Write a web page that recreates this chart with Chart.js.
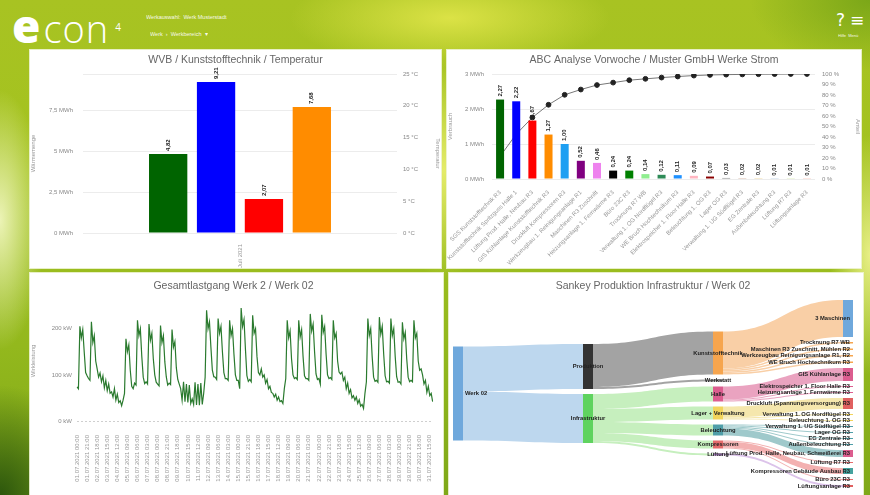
<!DOCTYPE html>
<html lang="de">
<head>
<meta charset="utf-8">
<title>econ4 Dashboard</title>
<script src="https://cdn.jsdelivr.net/npm/chart.js@4.4.1/dist/chart.umd.min.js"></script>
<style>
  html, body { margin: 0; padding: 0; }
  body {
    width: 870px; height: 495px; overflow: hidden; position: relative;
    font-family: "Liberation Sans", Arial, sans-serif;
    background:
      radial-gradient(50px 110px at 444px 170px, rgba(232,238,110,0.95), rgba(232,238,110,0)),
      radial-gradient(160px 50px at 450px 18px, rgba(222,228,72,0.95), rgba(222,228,72,0)),
      radial-gradient(45px 130px at 0px 220px, rgba(240,246,190,0.95), rgba(240,246,190,0)),
      radial-gradient(40px 120px at 870px 255px, rgba(236,242,140,0.95), rgba(236,242,140,0)),
      radial-gradient(90px 110px at 0px 495px, rgba(40,82,12,0.95), rgba(40,82,12,0)),
      radial-gradient(120px 70px at 870px 0px, rgba(112,160,22,0.8), rgba(112,160,22,0)),
      linear-gradient(180deg, #a8c322 0%, #a3c21f 35%, #93b81d 70%, #7fa818 100%);
  }
  #logo { position: absolute; left: 12px; top: -6px; color: #fff; white-space: nowrap; }
  #logo .e { font-family: "Open Sans", sans-serif; font-weight: 800; font-size: 46px; }
  #logo .con { font-family: "Open Sans", sans-serif; font-weight: 300; font-size: 38px; margin-left: 3px; letter-spacing: 1px; }
  #logo sup { font-family: "Open Sans", sans-serif; font-size: 10px; position: relative; top: -6px; margin-left: 6px; }
  .hdr { position: absolute; color: #fff; font-size: 5.5px; white-space: nowrap; opacity: 0.9; }
  .icons { position: absolute; top: 10px; left: 836px; color: #fff; font-size: 17px; font-family: "DejaVu Sans", sans-serif; }
  .icons span { margin-right: 5px; }
  .panel { position: absolute; background: #fff; box-shadow: 0 0 0 1px rgba(240,244,215,0.9); }
  .panel canvas { position: absolute; left: 0; top: 0; }
</style>
</head>
<body>
<div id="logo"><span class="e">e</span><span class="con">con</span><sup>4</sup></div>
<div class="hdr" style="left:146px; top:14px;">Werkauswahl:&nbsp;&nbsp;Werk Musterstadt</div>
<div class="hdr" style="left:150px; top:31px;">Werk&nbsp;&nbsp;›&nbsp;&nbsp;Werkbereich&nbsp;&nbsp;▾</div>
<div class="icons"><span>?</span><span>≡</span></div>
<div class="hdr" style="left:838px; top:33px; font-size:4px;">Hilfe&nbsp;&nbsp;Menü</div>

<div class="panel" style="left:30px; top:50px; width:411px; height:218px;"><canvas id="c1" width="411" height="218"></canvas></div>
<div class="panel" style="left:447px; top:50px; width:414px; height:218px;"><canvas id="c2" width="414" height="218"></canvas></div>
<div class="panel" style="left:30px; top:273px; width:413px; height:222px;"><canvas id="c3" width="413" height="222"></canvas></div>
<div class="panel" style="left:449px; top:273px; width:414px; height:222px;"><canvas id="c4" width="414" height="222"></canvas></div>

<script>
// ---------- Wärmemenge je Halle (MWh) ----------
const hallPeriod = ['Juli 2021'];
const hallNames = ['Halle 1', 'Halle 2', 'Halle 3', 'Halle 4'];
const hallHeat = [4.82, 9.21, 2.07, 7.68];
const hallColors = ['#006400', '#0000ff', '#ff0000', '#ff8c00'];

// ---------- ABC-Analyse Strom (MWh, Anteil kumuliert in %) ----------
const abcConsumers = [
  'SGS Kunststofftechnik R3', 'Kunststofftechnik Spritzguss Halle 1', 'Lüftung Prod. Halle, Neubau R3',
  'GIS Kühlanlage Kunststofftechnik R3', 'Druckluft Kompressoren R3', 'Werkzeugbau 1. Reinigungsanlage R1',
  'Maschinen R3 Zuschnitt', 'Heizungsanlage 1. Fernwärme R3', 'Büro 23C R3', 'Trocknung R7 WB',
  'Verwaltung 1. OG Nordflügel R3', 'WE Bruch Hochtechnikum R3', 'Elektrospeicher 1. Floor Halle R3',
  'Beleuchtung 1. OG R3', 'Lager OG R3', 'Verwaltung 1. UG Südflügel R3', 'EG Zentrale R3',
  'Außenbeleuchtung R3', 'Lüftung R7 R3', 'Lüftungsanlage R3'
];
const abcEnergy = [2.27, 2.22, 1.67, 1.27, 1.00, 0.52, 0.46, 0.24, 0.24, 0.14,
                   0.12, 0.11, 0.09, 0.07, 0.03, 0.02, 0.02, 0.01, 0.01, 0.01];
const abcShare = [21.6, 42.7, 58.6, 70.7, 80.2, 85.2, 89.5, 91.8, 94.1, 95.4,
                  96.6, 97.6, 98.5, 99.1, 99.4, 99.6, 99.8, 99.9, 100, 100];
const abcColors = ['#006400', '#0000ff', '#ff0000', '#ff8c00', '#1e9ff2', '#800080', '#ee82ee', '#000000',
                   '#008000', '#90ee90', '#2e8b57', '#1e90ff', '#ffb6c1', '#8b0000', '#808080', '#a0522d',
                   '#daa520', '#4682b4', '#9acd32', '#ff6347'];

// ---------- Gesamtlastgang Juli 2021, 3-Stunden-Werte (kW) ----------
const loadHours = ['00:00', '03:00', '06:00', '09:00', '12:00', '15:00', '18:00', '21:00'];
const loadPower = [
  74, 70, 205, 180, 198, 150, 105, 98,     // Do 01.07.
  92, 88, 215, 170, 185, 130, 113, 95,     // Fr
  104, 85, 98, 72, 88, 66, 80, 60,         // Sa
  63, 52, 70, 45, 58, 40, 44, 33,          // So
  45, 60, 178, 150, 165, 110, 75, 70,      // Mo 05.07.
  82, 78, 218, 185, 200, 140, 95, 81,
  85, 80, 210, 175, 190, 135, 100, 84,
  80, 76, 207, 170, 185, 128, 96, 78,
  82, 79, 198, 160, 172, 115, 90, 80,
  70, 45, 85, 42, 80, 40, 78, 38,
  48, 36, 84, 35, 80, 34, 82, 36,
  60, 95, 240, 200, 215, 160, 110, 96,     // Mo 12.07.
  95, 90, 222, 190, 205, 150, 105, 92,
  92, 88, 218, 185, 200, 145, 100, 88,
  88, 70, 245, 205, 220, 155, 98, 86,
  90, 85, 229, 190, 200, 140, 105, 100,
  113, 95, 100, 82, 90, 70, 75, 62,
  60, 52, 58, 45, 52, 42, 44, 38,
  70, 92, 218, 180, 195, 135, 100, 92,     // Mo 19.07.
  94, 90, 218, 182, 198, 140, 98, 92,
  92, 88, 232, 195, 210, 150, 102, 90,
  92, 80, 230, 192, 205, 145, 100, 92,
  94, 90, 218, 180, 190, 130, 106, 102,
  106, 88, 95, 70, 82, 60, 68, 50,
  55, 45, 52, 38, 46, 32, 36, 27,
  60, 85, 222, 185, 200, 140, 95, 86,      // Mo 26.07.
  88, 84, 225, 188, 205, 145, 98, 85,
  86, 82, 222, 185, 200, 140, 96, 84,
  85, 80, 214, 178, 192, 135, 95, 85,
  88, 85, 218, 180, 190, 130, 110, 113,
  100, 80, 88, 62, 75, 55, 60, 42          // Sa 31.07.
];
const loadLabels = [];
for (let d = 1; d <= loadPower.length / loadHours.length; d++) {
  for (const h of loadHours) loadLabels.push(String(d).padStart(2, '0') + '.07.2021 ' + h);
}

// ---------- Sankey Energiefluss Werk 02 (MWh) ----------
const sankeyNodes = [
  'Werk 02',
  'Produktion', 'Infrastruktur',
  'Kunststofftechnik', 'Werkstatt', 'Halle', 'Lager + Verwaltung', 'Beleuchtung', 'Kompressoren', 'Lüftung',
  '3 Maschinen', 'Trocknung R7 WB', 'Maschinen R3 Zuschnitt, Mühlen R2', 'Werkzeugbau Reinigungsanlage R1, R2',
  'WE Bruch Hochtechnikum R3', 'GIS Kühlanlage R3', 'Elektrospeicher 1. Floor Halle R3',
  'Heizungsanlage 1. Fernwärme R3', 'Druckluft (Spannungsversorgung) R3', 'Verwaltung 1. OG Nordflügel R3',
  'Beleuchtung 1. OG R3', 'Verwaltung 1. UG Südflügel R3', 'Lager OG R3', 'EG Zentrale R3',
  'Außenbeleuchtung R3', 'Lüftung Prod. Halle, Neubau, Schweißerei R3', 'Lüftung R7 R3',
  'Kompressoren Gebäude Ausbau R3', 'Büro 23C R3', 'Lüftungsanlage R3'
];
const sankeyColumn = [0, 1, 1, 2, 2, 2, 2, 2, 2, 2, 3, 3, 3, 3, 3, 3, 3, 3, 3, 3, 3, 3, 3, 3, 3, 3, 3, 3, 3, 3];
const sankeyFrom = [
  'Werk 02', 'Werk 02',
  'Produktion', 'Produktion',
  'Infrastruktur', 'Infrastruktur', 'Infrastruktur', 'Infrastruktur', 'Infrastruktur',
  'Kunststofftechnik', 'Kunststofftechnik', 'Kunststofftechnik', 'Kunststofftechnik', 'Kunststofftechnik',
  'Halle', 'Halle', 'Halle',
  'Lager + Verwaltung', 'Lager + Verwaltung', 'Lager + Verwaltung',
  'Beleuchtung', 'Beleuchtung', 'Beleuchtung', 'Beleuchtung', 'Beleuchtung',
  'Kompressoren', 'Kompressoren', 'Kompressoren',
  'Lüftung'
];
const sankeyTo = [
  'Produktion', 'Infrastruktur',
  'Kunststofftechnik', 'Werkstatt',
  'Halle', 'Lager + Verwaltung', 'Beleuchtung', 'Kompressoren', 'Lüftung',
  '3 Maschinen', 'Trocknung R7 WB', 'Maschinen R3 Zuschnitt, Mühlen R2', 'Werkzeugbau Reinigungsanlage R1, R2', 'WE Bruch Hochtechnikum R3',
  'GIS Kühlanlage R3', 'Elektrospeicher 1. Floor Halle R3', 'Heizungsanlage 1. Fernwärme R3',
  'Druckluft (Spannungsversorgung) R3', 'Verwaltung 1. OG Nordflügel R3', 'Beleuchtung 1. OG R3',
  'Verwaltung 1. UG Südflügel R3', 'Lager OG R3', 'EG Zentrale R3', 'Außenbeleuchtung R3', 'Lüftung Prod. Halle, Neubau, Schweißerei R3',
  'Lüftung R7 R3', 'Kompressoren Gebäude Ausbau R3', 'Büro 23C R3',
  'Lüftungsanlage R3'
];
const sankeyFlow = [
  45, 49,
  43, 2,
  15, 13, 11, 8, 2,
  37, 1.5, 1.5, 1.5, 1.5,
  13, 1, 1,
  11, 1, 1,
  1, 1, 1, 1, 7,
  1, 6, 1,
  2
];
// node fill and band tint per node
const sankeyNodeColor = [
  '#6fa8dc', '#333333', '#5fd35f', '#f6a54e', '#8c8c8c', '#dc5d8f', '#f2d45c', '#4f9ea8', '#e56b6b', '#b07fd0',
  '#6fa8dc', '#f6a54e', '#f6a54e', '#f6a54e', '#f6a54e', '#dc5d8f', '#dc5d8f', '#dc5d8f', '#e06060', '#f2d45c',
  '#f2d45c', '#4f9ea8', '#4f9ea8', '#4f9ea8', '#4f9ea8', '#dc5d8f', '#e56b6b', '#45a29e', '#e56b6b', '#e06060'
];
const sankeyBandColor = [
  '#bdd7ee', '#a3a3a3', '#c6efbe', '#f9cfa6', '#cfcfcf', '#eaa3c0', '#f5e7ad', '#9fc9cb', '#f3b1b1', '#dcc3ea'
];

// ---------- shared styling ----------
Chart.defaults.font.family = '"Liberation Sans", Arial, sans-serif';
Chart.defaults.font.size = 6;
Chart.defaults.color = '#888';
Chart.defaults.animation = false;
Chart.defaults.plugins.legend.display = false;
Chart.defaults.plugins.tooltip.enabled = false;

const de = (v, d) => v.toLocaleString('de-DE', { minimumFractionDigits: d, maximumFractionDigits: d });
const titleOpts = (text, top, bottom) => ({
  display: true, text, color: '#666',
  font: { size: 10.5, weight: 'normal' },
  padding: { top, bottom }
});
const axisTitle = text => ({ display: true, text, color: '#999', font: { size: 6 }, padding: 0 });

// rotated value labels above each bar
const barValueLabels = {
  id: 'barValueLabels',
  afterDatasetsDraw(chart, _args, opts) {
    const ctx = chart.ctx;
    ctx.save();
    ctx.font = 'bold 6px "Liberation Sans", Arial, sans-serif';
    ctx.fillStyle = '#222';
    ctx.textAlign = 'left';
    ctx.textBaseline = 'middle';
    chart.data.datasets.forEach((ds, di) => {
      if ((ds.type || chart.config.type) !== 'bar') return;
      chart.getDatasetMeta(di).data.forEach((el, i) => {
        ctx.save();
        ctx.translate(el.x, el.y - 3);
        ctx.rotate(-Math.PI / 2);
        ctx.fillText(de(ds.data[i], opts.decimals), 0, 0);
        ctx.restore();
      });
    });
    ctx.restore();
  }
};

// ---------- 1: Wärmemenge / Temperatur ----------
new Chart(document.getElementById('c1'), {
  type: 'bar',
  data: {
    labels: hallPeriod,
    datasets: hallNames.map((n, i) => ({
      label: n, data: [hallHeat[i]], backgroundColor: hallColors[i], yAxisID: 'y',
      categoryPercentage: 0.61, barPercentage: 0.8
    }))
  },
  options: {
    responsive: false,
    plugins: { title: titleOpts('WVB / Kunststofftechnik / Temperatur', 4, 7.4), barValueLabels: { decimals: 2 } },
    scales: {
      x: {
        grid: { display: false }, border: { display: false },
        ticks: { minRotation: 90, maxRotation: 90, padding: 3, color: '#999' },
        afterFit: s => { s.height = 35; }
      },
      y: {
        position: 'left', min: 0, max: 9.7,
        grid: { color: '#ececec', drawTicks: false }, border: { display: false },
        ticks: { stepSize: 2.5, padding: 10, callback: v => (v % 2.5 === 0 ? de(v, v % 1 ? 1 : 0) + ' MWh' : '') },
        title: axisTitle('Wärmemenge'),
        afterFit: s => { s.width = 53; }
      },
      y1: {
        position: 'right', min: 0, max: 25,
        grid: { display: false, drawTicks: false }, border: { display: false },
        ticks: { stepSize: 5, padding: 6, callback: v => v + ' °C' },
        title: axisTitle('Temperatur'),
        afterFit: s => { s.width = 44; }
      }
    }
  },
  plugins: [barValueLabels]
});

// ---------- 2: ABC-Analyse ----------
new Chart(document.getElementById('c2'), {
  type: 'bar',
  data: {
    labels: abcConsumers,
    datasets: [
      {
        type: 'bar', label: 'Verbrauch', data: abcEnergy, backgroundColor: abcColors, yAxisID: 'y',
        categoryPercentage: 0.8, barPercentage: 0.62, order: 1
      },
      {
        type: 'line', label: 'Anteil kumuliert', data: abcShare, yAxisID: 'y1',
        borderColor: '#777', borderWidth: 1, pointRadius: 2.4, pointBackgroundColor: '#222',
        pointBorderColor: '#222', order: 2
      }
    ]
  },
  options: {
    responsive: false,
    plugins: { title: titleOpts('ABC Analyse Vorwoche / Muster GmbH Werke Strom', 4, 7.4), barValueLabels: { decimals: 2 } },
    scales: {
      x: {
        grid: { display: false }, border: { display: false },
        ticks: { minRotation: 45, maxRotation: 45, padding: 2, autoSkip: false, color: '#999' },
        afterFit: s => { s.height = 89; }
      },
      y: {
        position: 'left', min: 0, max: 3,
        grid: { color: '#ececec', drawTicks: false }, border: { display: false },
        ticks: { stepSize: 1, padding: 8, callback: v => v + ' MWh' },
        title: axisTitle('Verbrauch'),
        afterFit: s => { s.width = 45; }
      },
      y1: {
        position: 'right', min: 0, max: 100,
        grid: { display: false, drawTicks: false }, border: { display: false },
        ticks: { stepSize: 10, padding: 7, callback: v => v + ' %' },
        title: axisTitle('Anteil'),
        afterFit: s => { s.width = 46; }
      }
    }
  },
  plugins: [barValueLabels]
});

// ---------- 3: Gesamtlastgang ----------
new Chart(document.getElementById('c3'), {
  type: 'line',
  data: {
    labels: loadLabels,
    datasets: [{
      label: 'Wirkleistung', data: loadPower, borderColor: '#2a7a2e', borderWidth: 1.2,
      pointRadius: 0, tension: 0, fill: false
    }]
  },
  options: {
    responsive: false,
    layout: { padding: { right: 6 } },
    plugins: { title: titleOpts('Gesamtlastgang Werk 2 / Werk 02', 7, 8.4) },
    scales: {
      x: {
        grid: { display: false }, border: { display: false },
        ticks: { minRotation: 90, maxRotation: 90, autoSkip: true, maxTicksLimit: 42, padding: 6, color: '#999' },
        afterFit: s => { s.height = 74; }
      },
      y: {
        min: 0, max: 260,
        afterBuildTicks: s => { s.ticks = s.ticks.filter(t => t.value % 100 === 0); },
        grid: { color: c => (c.tick && c.tick.value === 0 ? '#cfcfcf' : 'rgba(0,0,0,0)'), drawTicks: false },
        border: { display: false, dash: [2, 2] },
        ticks: { stepSize: 100, padding: 5, callback: v => v + ' kW' },
        title: axisTitle('Wirkleistung'),
        afterFit: s => { s.width = 47; }
      }
    }
  }
});

// ---------- 4: Sankey ----------
const sankeyPlugin = {
  id: 'sankeyFlows',
  afterDatasetsDraw(chart, _args, opts) {
    const { ctx, scales: { x, y } } = chart;
    const n = sankeyNodes.length;
    const links = sankeyFrom.map((f, i) => ({
      s: sankeyNodes.indexOf(f), t: sankeyNodes.indexOf(sankeyTo[i]), v: sankeyFlow[i]
    }));
    const inV = Array(n).fill(0), outV = Array(n).fill(0);
    links.forEach(l => { outV[l.s] += l.v; inV[l.t] += l.v; });
    const size = inV.map((v, i) => Math.max(v, outV[i]));
    const maxCol = Math.max(...sankeyColumn);
    const mid = (y.min + y.max) / 2;
    const top = Array(n);
    for (let c = 0; c <= maxCol; c++) {
      const members = [];
      sankeyColumn.forEach((cc, i) => { if (cc === c) members.push(i); });
      const total = members.reduce((s, i) => s + size[i], 0) + opts.gap * (members.length - 1);
      let v = mid - total / 2;
      members.forEach(i => { top[i] = v; v += size[i] + opts.gap; });
    }
    const nodeLeft = i => x.getPixelForValue(sankeyColumn[i]) - opts.nodeWidth * sankeyColumn[i] / maxCol;

    const outOff = Array(n).fill(0), inOff = Array(n).fill(0);
    [...links].sort((a, b) => top[a.t] - top[b.t]).forEach(l => { l.so = outOff[l.s]; outOff[l.s] += l.v; });
    [...links].sort((a, b) => top[a.s] - top[b.s]).forEach(l => { l.to = inOff[l.t]; inOff[l.t] += l.v; });

    ctx.save();
    links.forEach(l => {
      const x0 = nodeLeft(l.s) + opts.nodeWidth, x1 = nodeLeft(l.t), xm = (x0 + x1) / 2;
      const a0 = y.getPixelForValue(top[l.s] + l.so), b0 = y.getPixelForValue(top[l.s] + l.so + l.v);
      const a1 = y.getPixelForValue(top[l.t] + l.to), b1 = y.getPixelForValue(top[l.t] + l.to + l.v);
      ctx.beginPath();
      ctx.moveTo(x0, a0);
      ctx.bezierCurveTo(xm, a0, xm, a1, x1, a1);
      ctx.lineTo(x1, b1);
      ctx.bezierCurveTo(xm, b1, xm, b0, x0, b0);
      ctx.closePath();
      ctx.fillStyle = sankeyBandColor[l.s];
      ctx.fill();
    });
    for (let i = 0; i < n; i++) {
      const y0 = y.getPixelForValue(top[i]), y1 = y.getPixelForValue(top[i] + size[i]);
      ctx.fillStyle = sankeyNodeColor[i];
      ctx.fillRect(nodeLeft(i), y0, opts.nodeWidth, Math.max(1, y1 - y0));
    }
    ctx.font = 'bold 5.8px "Liberation Sans", Arial, sans-serif';
    ctx.fillStyle = '#222';
    ctx.textBaseline = 'middle';
    for (let i = 0; i < n; i++) {
      const c = sankeyColumn[i];
      const yc = y.getPixelForValue(top[i] + size[i] / 2);
      const xl = nodeLeft(i);
      if (c === 0) { ctx.textAlign = 'left'; ctx.fillText(sankeyNodes[i], xl + opts.nodeWidth + 2, yc); }
      else if (c === maxCol) { ctx.textAlign = 'right'; ctx.fillText(sankeyNodes[i], xl + opts.nodeWidth - 3, yc); }
      else { ctx.textAlign = 'center'; ctx.fillText(sankeyNodes[i], xl + opts.nodeWidth / 2, yc); }
    }
    ctx.restore();
  }
};

new Chart(document.getElementById('c4'), {
  type: 'scatter',
  data: { datasets: [] },
  options: {
    responsive: false,
    layout: { padding: { left: 4, right: 10, bottom: 6 } },
    plugins: {
      title: titleOpts('Sankey Produktion Infrastruktur / Werk 02', 7, 5.4),
      sankeyFlows: { gap: 5, nodeWidth: 10 }
    },
    scales: {
      x: { type: 'linear', min: 0, max: 3, display: false },
      y: { type: 'linear', min: 0, max: 191, reverse: true, display: false }
    }
  },
  plugins: [sankeyPlugin]
});
</script>
</body>
</html>
